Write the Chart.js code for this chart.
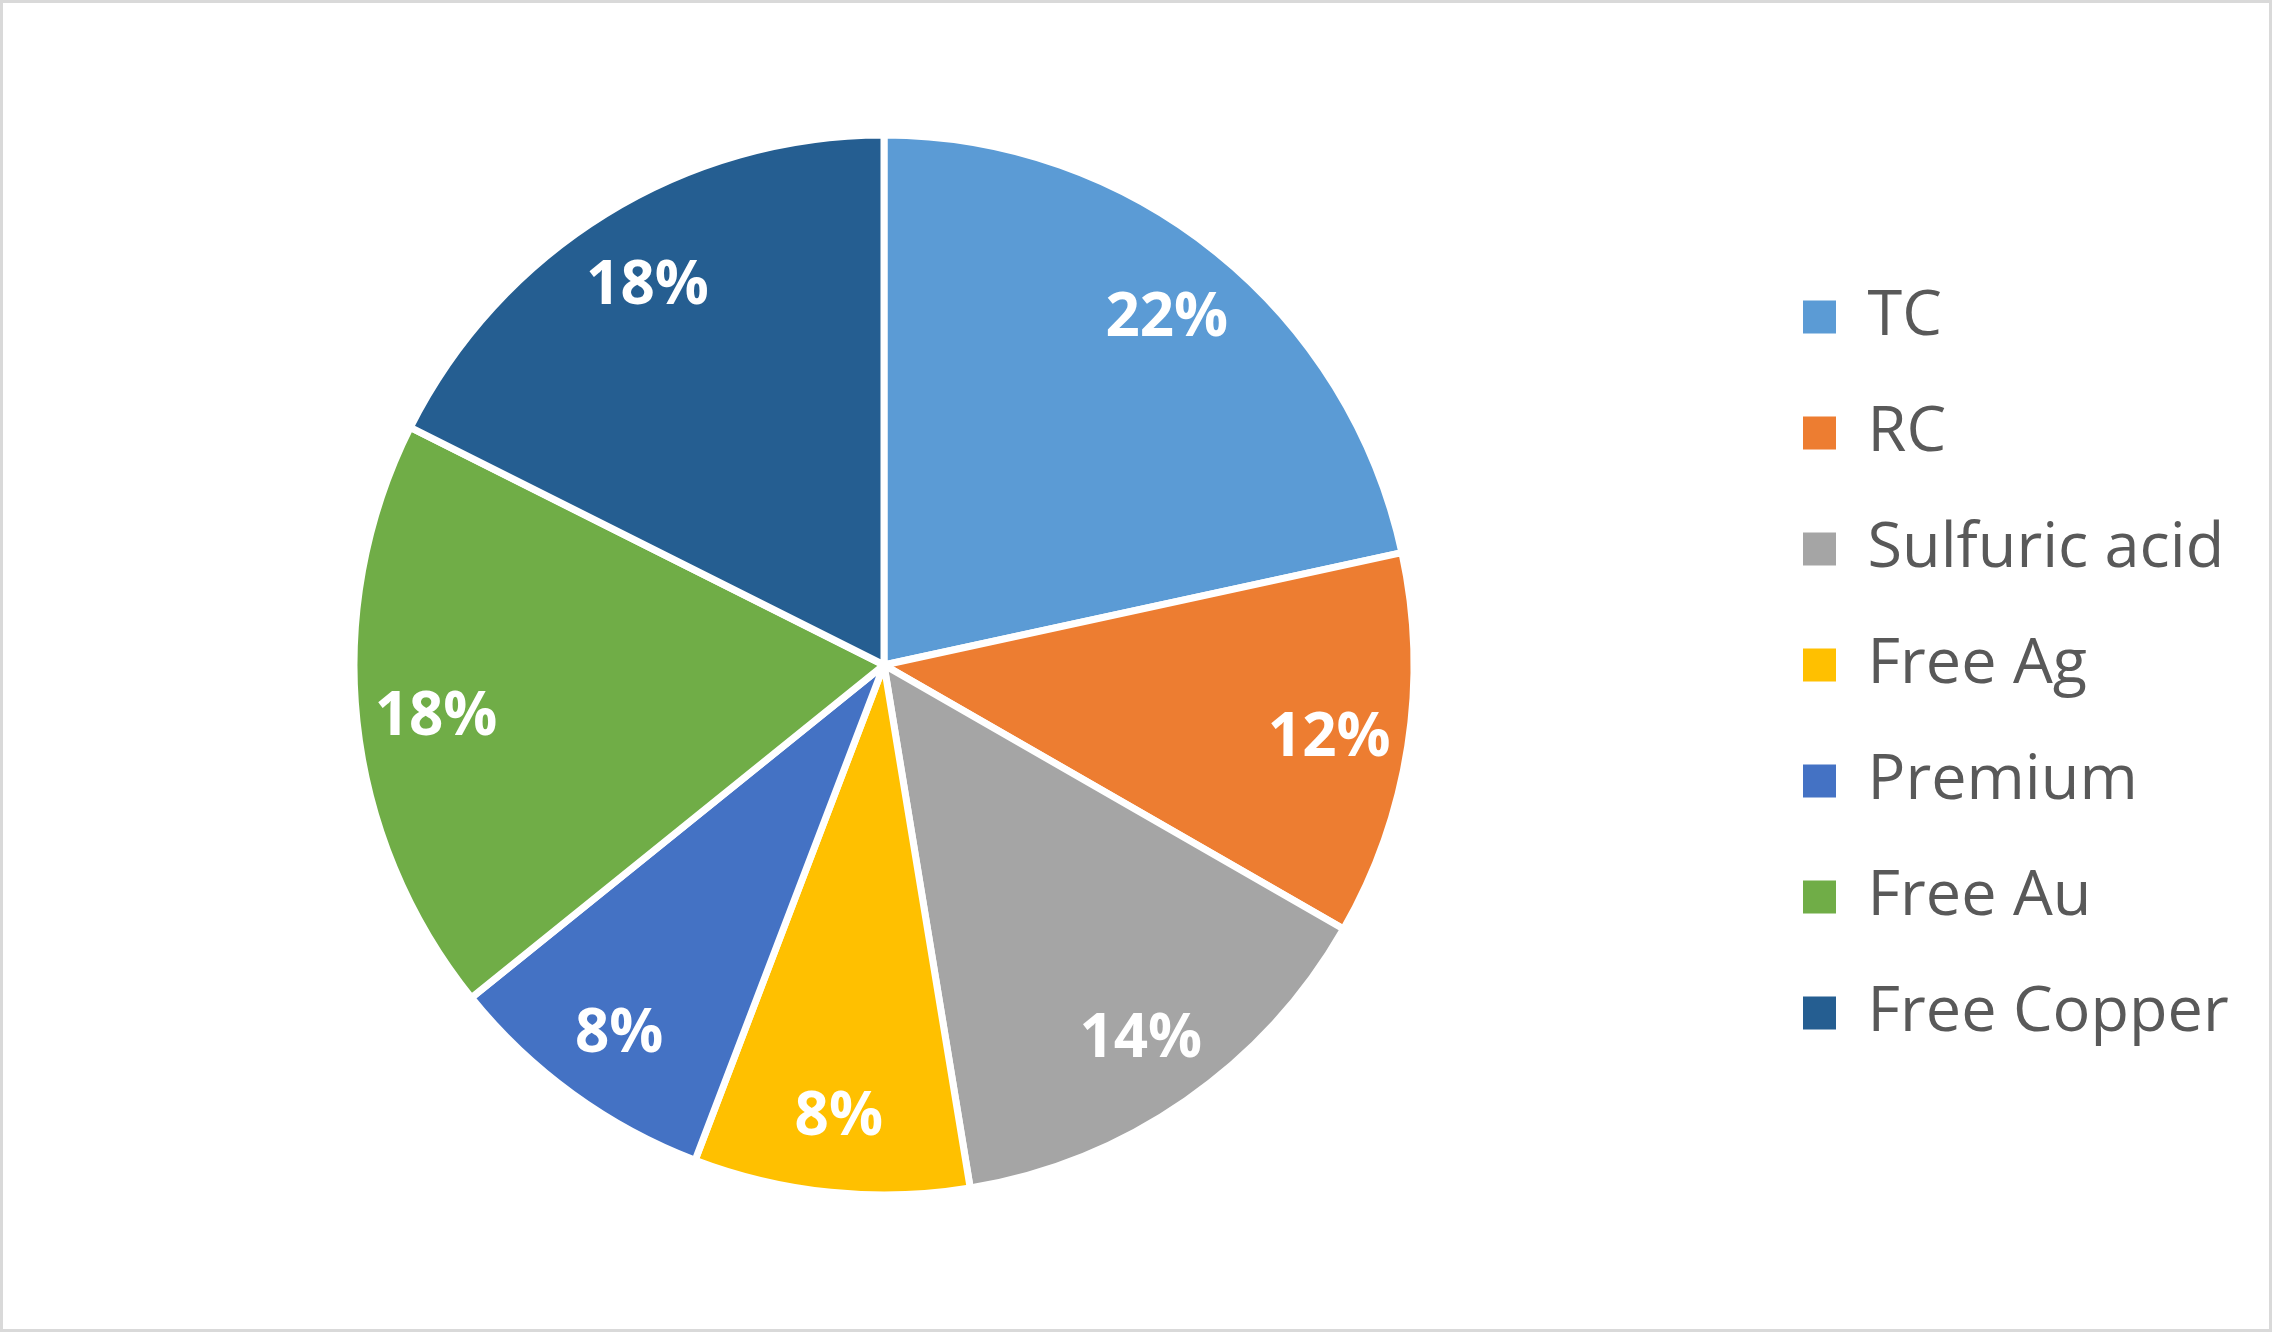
<!DOCTYPE html>
<html>
<head>
<meta charset="utf-8">
<script src="https://cdn.jsdelivr.net/npm/chart.js@4.4.1/dist/chart.umd.min.js"></script>
<style>
  html, body { margin: 0; padding: 0; background: #fff; overflow: hidden; }
  #wrap {
    width: 2272px; height: 1332px; box-sizing: border-box;
    border: 3px solid #d9d9d9; background: #fff; position: relative;
  }
</style>
</head>
<body>
<div id="wrap"><canvas id="pie"></canvas></div>
<script>
// chart data
const categories = ['TC', 'RC', 'Sulfuric acid', 'Free Ag', 'Premium', 'Free Au', 'Free Copper'];
const shares = [21.6, 11.7, 14.1, 8.4, 8.4, 18.2, 17.6];
const sliceColors = ['#5B9BD5', '#ED7D31', '#A5A5A5', '#FFC000', '#4472C4', '#70AD47', '#255E91'];

// layout numbers (canvas space, inside the 3px frame)
const canvasW = 2266;
const legendFont = 63;
const legendBox = 33;
const legendPad = 53;      // gap between legend rows
const legendLeft = 1747;   // left edge of the legend block
const pieCenterX = 881;

Chart.defaults.font.family = "'Open Sans', sans-serif";

// work out right padding so the legend block starts where we want it
const mctx = document.createElement('canvas').getContext('2d');
mctx.font = legendFont + "px 'Open Sans', sans-serif";
const widest = Math.max(...categories.map(t => mctx.measureText(t).width));
const legendWidth = legendPad + legendBox + legendFont / 2 + widest + 10;
const padRight = canvasW - legendLeft - legendWidth;
const padLeft = 2 * pieCenterX - legendLeft;

// percentage labels inside the slices
const sliceLabels = {
  id: 'sliceLabels',
  afterDatasetsDraw(chart) {
    const ctx = chart.ctx;
    const meta = chart.getDatasetMeta(0);
    const total = shares.reduce((a, b) => a + b, 0);
    ctx.save();
    ctx.fillStyle = '#ffffff';
    ctx.font = "bold 60px 'Open Sans', sans-serif";
    ctx.textAlign = 'center';
    ctx.textBaseline = 'middle';
    meta.data.forEach((arc, i) => {
      const p = arc.getProps(['startAngle', 'endAngle', 'outerRadius', 'x', 'y'], true);
      const mid = (p.startAngle + p.endAngle) / 2;
      const r = p.outerRadius * 0.85;
      const txt = Math.round(shares[i] / total * 100) + '%';
      ctx.fillText(txt, p.x + Math.cos(mid) * r, p.y + Math.sin(mid) * r + 5);
    });
    ctx.restore();
  }
};

new Chart(document.getElementById('pie'), {
  type: 'pie',
  data: {
    labels: categories,
    datasets: [{
      data: shares,
      backgroundColor: sliceColors,
      borderColor: '#ffffff',
      borderWidth: 7,
      radius: 530,
      clip: false
    }]
  },
  options: {
    responsive: true,
    maintainAspectRatio: false,
    devicePixelRatio: 1,
    animation: false,
    layout: {
      padding: { top: 132, bottom: 134, left: padLeft, right: padRight }
    },
    plugins: {
      tooltip: { enabled: false },
      legend: {
        position: 'right',
        labels: {
          boxWidth: legendBox,
          boxHeight: legendBox,
          padding: legendPad,
          color: '#595959',
          font: { size: legendFont },
          generateLabels: () => categories.map((t, i) => ({
            text: t,
            fillStyle: sliceColors[i],
            strokeStyle: sliceColors[i],
            lineWidth: 0,
            fontColor: '#595959',
            hidden: false,
            index: i
          }))
        }
      }
    }
  },
  plugins: [sliceLabels]
});
</script>
</body>
</html>
